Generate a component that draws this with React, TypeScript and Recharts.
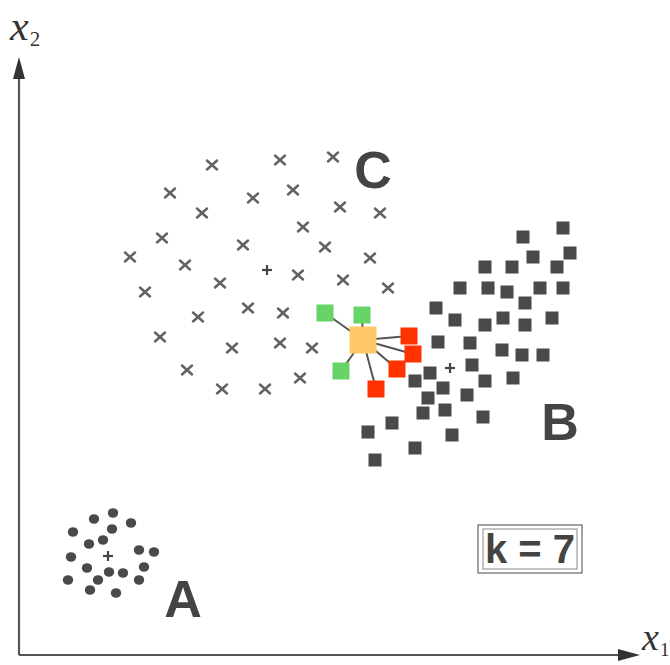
import { ScatterChart, Scatter, XAxis, YAxis, ReferenceLine } from 'recharts';

// coordinates: origin at the axes' corner, x to the right, y upward
const classC = [
  { x: 193, y: 490 }, { x: 261, y: 495 }, { x: 314, y: 498 }, { x: 151, y: 462 },
  { x: 234, y: 457 }, { x: 274, y: 465 }, { x: 183, y: 442 }, { x: 321, y: 448 },
  { x: 361, y: 442 }, { x: 284, y: 428 }, { x: 143, y: 417 }, { x: 224, y: 410 },
  { x: 306, y: 408 }, { x: 111, y: 398 }, { x: 166, y: 390 }, { x: 351, y: 397 },
  { x: 279, y: 380 }, { x: 324, y: 375 }, { x: 201, y: 372 }, { x: 369, y: 367 },
  { x: 126, y: 363 }, { x: 229, y: 347 }, { x: 264, y: 342 }, { x: 179, y: 338 },
  { x: 141, y: 318 }, { x: 213, y: 307 }, { x: 261, y: 312 }, { x: 293, y: 307 },
  { x: 168, y: 285 }, { x: 281, y: 277 }, { x: 203, y: 266 }, { x: 246, y: 266 },
];

const classB = [
  { x: 504, y: 418 }, { x: 544, y: 427 }, { x: 551, y: 402 }, { x: 514, y: 398 },
  { x: 466, y: 388 }, { x: 493, y: 388 }, { x: 538, y: 388 }, { x: 441, y: 367 },
  { x: 469, y: 367 }, { x: 488, y: 363 }, { x: 521, y: 367 }, { x: 544, y: 367 },
  { x: 506, y: 352 }, { x: 417, y: 347 }, { x: 436, y: 335 }, { x: 466, y: 330 },
  { x: 484, y: 337 }, { x: 506, y: 330 }, { x: 533, y: 337 }, { x: 419, y: 313 },
  { x: 451, y: 312 }, { x: 483, y: 305 }, { x: 503, y: 300 }, { x: 524, y: 300 },
  { x: 411, y: 282 }, { x: 396, y: 274 }, { x: 453, y: 290 }, { x: 466, y: 274 },
  { x: 494, y: 277 }, { x: 424, y: 267 }, { x: 409, y: 257 }, { x: 448, y: 260 },
  { x: 404, y: 242 }, { x: 426, y: 245 }, { x: 464, y: 238 }, { x: 373, y: 232 },
  { x: 349, y: 223 }, { x: 433, y: 220 }, { x: 396, y: 207 }, { x: 356, y: 195 },
];

const classA = [
  { x: 94, y: 142 }, { x: 75, y: 136 }, { x: 112, y: 132 }, { x: 54, y: 123 },
  { x: 93, y: 126 }, { x: 84, y: 115 }, { x: 70, y: 111 }, { x: 120, y: 105 },
  { x: 135, y: 103 }, { x: 52, y: 98 }, { x: 68, y: 87 }, { x: 125, y: 88 },
  { x: 90, y: 83 }, { x: 104, y: 82 }, { x: 49, y: 75 }, { x: 79, y: 75 },
  { x: 120, y: 75 }, { x: 71, y: 65 }, { x: 97, y: 62 },
];

const centroids = [
  { x: 248, y: 385 },
  { x: 431, y: 287 },
  { x: 89, y: 99 },
];

const query = [{ x: 344, y: 315 }];

const greenNeighbours = [
  { x: 306, y: 342 }, { x: 343, y: 340 }, { x: 322, y: 284 },
];

const redNeighbours = [
  { x: 390, y: 319 }, { x: 394, y: 301 }, { x: 378, y: 286 }, { x: 357, y: 266 },
];

const clusterLabels = [
  { x: 164, y: 38, text: 'A' },
  { x: 541, y: 215, text: 'B' },
  { x: 354, y: 467, text: 'C' },
];

const kLabel = [{ x: 511, y: 106, text: 'k = 7' }];

const arrowHeads = [
  { x: 621, y: 0, dir: 'right' },
  { x: 0, y: 598, dir: 'up' },
];

const axisTitles = [
  { x: -9, y: 615, text: 'x', sub: '2', size: 42 },
  { x: 623, y: 5, text: 'x', sub: '1', size: 38 },
];

const GREY = '#555';
const DARK = '#4a4a4a';

const Cross = (props: any) => {
  const { cx, cy } = props;
  return (
    <g stroke="#636363" strokeWidth={2.5} strokeLinecap="round">
      <line x1={cx - 5} y1={cy - 4.5} x2={cx + 5} y2={cy + 4.5} />
      <line x1={cx - 5} y1={cy + 4.5} x2={cx + 5} y2={cy - 4.5} />
    </g>
  );
};

const Plus = (props: any) => {
  const { cx, cy } = props;
  return (
    <g stroke="#444" strokeWidth={2.2}>
      <line x1={cx - 5} y1={cy} x2={cx + 5} y2={cy} />
      <line x1={cx} y1={cy - 5} x2={cx} y2={cy + 5} />
    </g>
  );
};

const squareShape = (size: number, fill: string) => (props: any) => {
  const { cx, cy } = props;
  return <rect x={cx - size / 2} y={cy - size / 2} width={size} height={size} fill={fill} />;
};

const Dot = (props: any) => {
  const { cx, cy } = props;
  return <ellipse cx={cx} cy={cy} rx={5.2} ry={4.8} fill={DARK} />;
};

const Arrow = (props: any) => {
  const { cx, cy, payload } = props;
  const pts = payload.dir === 'right'
    ? `${cx},${cy} ${cx - 22},${cy - 6} ${cx - 22},${cy + 6}`
    : `${cx},${cy} ${cx - 6},${cy + 22} ${cx + 6},${cy + 22}`;
  return <polygon points={pts} fill="#333" />;
};

const BigLetter = (props: any) => {
  const { cx, cy, payload } = props;
  return (
    <text x={cx} y={cy} textAnchor="middle" fontFamily="Liberation Sans, Arial, sans-serif"
      fontWeight="bold" fontSize={52} fill="#444">
      {payload.text}
    </text>
  );
};

const KBox = (props: any) => {
  const { cx, cy, payload } = props;
  return (
    <g>
      <rect x={cx - 52} y={cy - 24} width={104} height={48} fill="#fff" stroke="#666" strokeWidth={1.2} />
      <rect x={cx - 47} y={cy - 20} width={94} height={40} fill="none" stroke="#888" strokeWidth={1} />
      <text x={cx} y={cy + 14} textAnchor="middle" fontFamily="Liberation Sans, Arial, sans-serif"
        fontWeight="bold" fontSize={40} fill="#444">
        {payload.text}
      </text>
    </g>
  );
};

const AxisTitle = (props: any) => {
  const { cx, cy, payload } = props;
  return (
    <text x={cx} y={cy} fontFamily="Liberation Serif, Times New Roman, serif" fill="#333">
      <tspan fontStyle="italic" fontSize={payload.size}>{payload.text}</tspan>
      <tspan fontSize={payload.size / 2} dy={6} dx={1}>{payload.sub}</tspan>
    </text>
  );
};

const Nothing = () => <g />;

const App = () => {
  const q = query[0];
  const neighbours = [...greenNeighbours, ...redNeighbours];

  return (
    <div style={{ position: 'absolute', left: 0, top: 0, width: 670, height: 665, background: '#fff' }}>
      <ScatterChart width={670} height={665} margin={{ top: 0, right: 0, bottom: 0, left: 0 }}>
        <XAxis type="number" dataKey="x" domain={[-19, 651]} hide allowDataOverflow />
        <YAxis type="number" dataKey="y" domain={[-10, 655]} hide allowDataOverflow />

        <ReferenceLine segment={[{ x: 0, y: 0 }, { x: 605, y: 0 }]} stroke={GREY} strokeWidth={2.2} />
        <ReferenceLine segment={[{ x: 0, y: 0 }, { x: 0, y: 580 }]} stroke={GREY} strokeWidth={2.2} />

        <Scatter data={arrowHeads} shape={Arrow} isAnimationActive={false} />
        <Scatter data={axisTitles} shape={AxisTitle} isAnimationActive={false} />

        <Scatter data={classC} shape={Cross} isAnimationActive={false} />
        <Scatter data={classB} shape={squareShape(13, DARK)} isAnimationActive={false} />
        <Scatter data={classA} shape={Dot} isAnimationActive={false} />
        <Scatter data={centroids} shape={Plus} isAnimationActive={false} />

        {neighbours.map((n, i) => (
          <Scatter
            key={i}
            data={[q, n]}
            line={{ stroke: GREY, strokeWidth: 2 }}
            shape={Nothing}
            isAnimationActive={false}
          />
        ))}

        <Scatter data={greenNeighbours} shape={squareShape(17, '#66d466')} isAnimationActive={false} />
        <Scatter data={redNeighbours} shape={squareShape(17, '#ff3300')} isAnimationActive={false} />
        <Scatter data={query} shape={squareShape(27, '#fec866')} isAnimationActive={false} />

        <Scatter data={clusterLabels} shape={BigLetter} isAnimationActive={false} />
        <Scatter data={kLabel} shape={KBox} isAnimationActive={false} />
      </ScatterChart>
    </div>
  );
};

export default App;
